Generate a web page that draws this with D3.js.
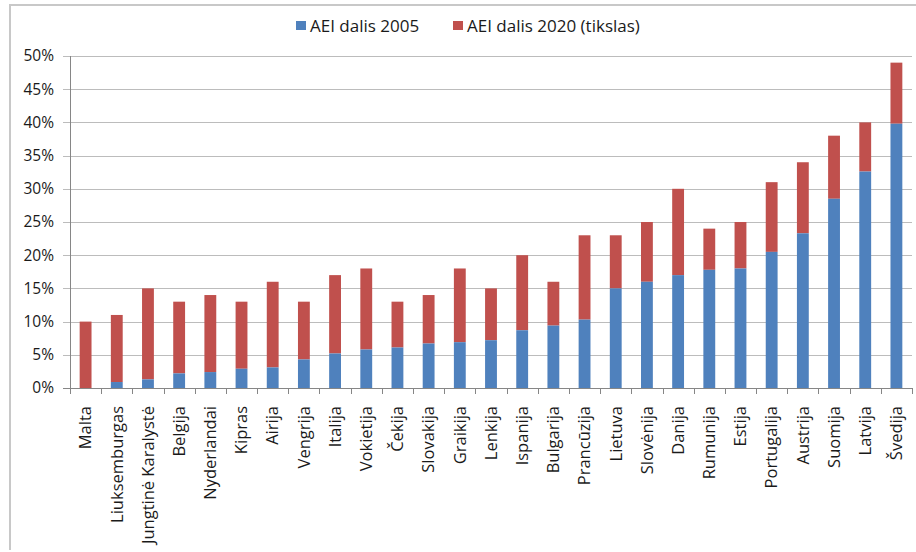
<!DOCTYPE html>
<html>
<head>
<meta charset="utf-8">
<script src="https://cdn.jsdelivr.net/npm/d3@7"></script>
<style>
  body { margin: 0; background: #fff; }
  svg { display: block; font-family: "Open Sans", sans-serif; }
</style>
</head>
<body>
<div id="chart"></div>
<script>
var countries = ['Malta', 'Liuksemburgas', 'Jungtinė Karalystė', 'Belgija', 'Nyderlandai',
  'Kipras', 'Airija', 'Vengrija', 'Italija', 'Vokietija', 'Čekija', 'Slovakija', 'Graikija',
  'Lenkija', 'Ispanija', 'Bulgarija', 'Prancūzija', 'Lietuva', 'Slovėnija', 'Danija',
  'Rumunija', 'Estija', 'Portugalija', 'Austrija', 'Suomija', 'Latvija', 'Švedija'];

// share of renewables in 2005, %
var share2005 = [0, 0.9, 1.3, 2.2, 2.4, 2.9, 3.1, 4.3, 5.2, 5.8, 6.1, 6.7, 6.9,
  7.2, 8.7, 9.4, 10.3, 15.0, 16.0, 17.0, 17.8, 18.0, 20.5, 23.3, 28.5, 32.6, 39.8];

// 2020 target, %
var target2020 = [10, 11, 15, 13, 14, 13, 16, 13, 17, 18, 13, 14, 18,
  15, 20, 16, 23, 23, 25, 30, 24, 25, 31, 34, 38, 40, 49];

var yTicks = [0, 5, 10, 15, 20, 25, 30, 35, 40, 45, 50];

var seriesNames = ['AEI dalis 2005', 'AEI dalis 2020 (tikslas)'];

var width = 916,
    height = 552,
    color = d3.scaleOrdinal().domain(seriesNames).range(['#4f81bd', '#c0504d']);

var margin = {left: 70, right: 4, top: 56, bottom: 164};

var svg = d3.select('#chart').append('svg')
  .attr('width', width)
  .attr('height', height);

// chart frame
svg.append('path')
  .attr('d', 'M10,' + (height - 2) + 'V5H' + width)
  .attr('fill', 'none')
  .attr('stroke', '#c8c8c8')
  .attr('stroke-width', 2);

var x = d3.scaleBand()
  .domain(countries)
  .range([margin.left, width - margin.right])
  .paddingInner(0.62)
  .paddingOuter(0.31);

var y = d3.scaleLinear()
  .domain([0, 50])
  .range([height - margin.bottom, margin.top]);

// gridlines
svg.append('g')
  .selectAll('line')
  .data(yTicks)
  .enter()
  .append('line')
  .attr('x1', margin.left - 7)
  .attr('x2', width - margin.right)
  .attr('y1', function(d) { return Math.round(y(d)) + 0.5; })
  .attr('y2', function(d) { return Math.round(y(d)) + 0.5; })
  .attr('stroke', function(d) { return d === 0 ? '#868686' : '#bcbcbc'; })
  .attr('stroke-width', 1);

// y axis labels
svg.append('g')
  .selectAll('text')
  .data(yTicks)
  .enter()
  .append('text')
  .attr('x', 54)
  .attr('y', function(d) { return y(d); })
  .attr('dy', '0.35em')
  .attr('text-anchor', 'end')
  .style('font-size', '15.5px')
  .style('fill', '#1a1a1a')
  .text(function(d) { return d + '%'; });

// y axis line
svg.append('line')
  .attr('x1', margin.left + 0.5)
  .attr('x2', margin.left + 0.5)
  .attr('y1', y(50))
  .attr('y2', y(0))
  .attr('stroke', '#868686');

// category ticks
var step = x.step();
svg.append('g')
  .selectAll('line')
  .data(d3.range(countries.length + 1))
  .enter()
  .append('line')
  .attr('x1', function(i) { return Math.round(margin.left + i * step) + 0.5; })
  .attr('x2', function(i) { return Math.round(margin.left + i * step) + 0.5; })
  .attr('y1', y(0))
  .attr('y2', y(0) + 6)
  .attr('stroke', '#868686');

var rows = countries.map(function(c, i) {
  return {name: c, a: share2005[i], b: target2020[i]};
});

var bar = svg.selectAll('.bar')
  .data(rows)
  .enter()
  .append('g').attr('class', 'bar');

bar.append('rect')
  .attr('x', function(d) { return x(d.name); })
  .attr('width', x.bandwidth())
  .attr('y', function(d) { return y(d.b); })
  .attr('height', function(d) { return y(d.a) - y(d.b); })
  .style('fill', color(seriesNames[1]));

bar.append('rect')
  .attr('x', function(d) { return x(d.name); })
  .attr('width', x.bandwidth())
  .attr('y', function(d) { return y(d.a); })
  .attr('height', function(d) { return y(0) - y(d.a); })
  .style('fill', color(seriesNames[0]));

// category labels
svg.append('g')
  .selectAll('text')
  .data(countries)
  .enter()
  .append('text')
  .attr('transform', function(d) {
    return 'translate(' + (x(d) + x.bandwidth() / 2) + ',' + (y(0) + 18) + ') rotate(-90)';
  })
  .attr('dy', '0.35em')
  .attr('text-anchor', 'end')
  .style('font-size', '16.5px')
  .style('fill', '#1a1a1a')
  .text(function(d) { return d; });

// legend
var legend = svg.append('g').attr('class', 'legend');
var legendX = [296, 453];
seriesNames.forEach(function(s, i) {
  legend.append('rect')
    .attr('x', legendX[i])
    .attr('y', 21)
    .attr('width', 10)
    .attr('height', 9)
    .style('fill', color(s));
  legend.append('text')
    .attr('x', legendX[i] + 14)
    .attr('y', 26)
    .attr('dy', '0.35em')
    .style('font-size', '17px')
    .style('fill', '#1a1a1a')
    .text(s);
});
</script>
</body>
</html>
